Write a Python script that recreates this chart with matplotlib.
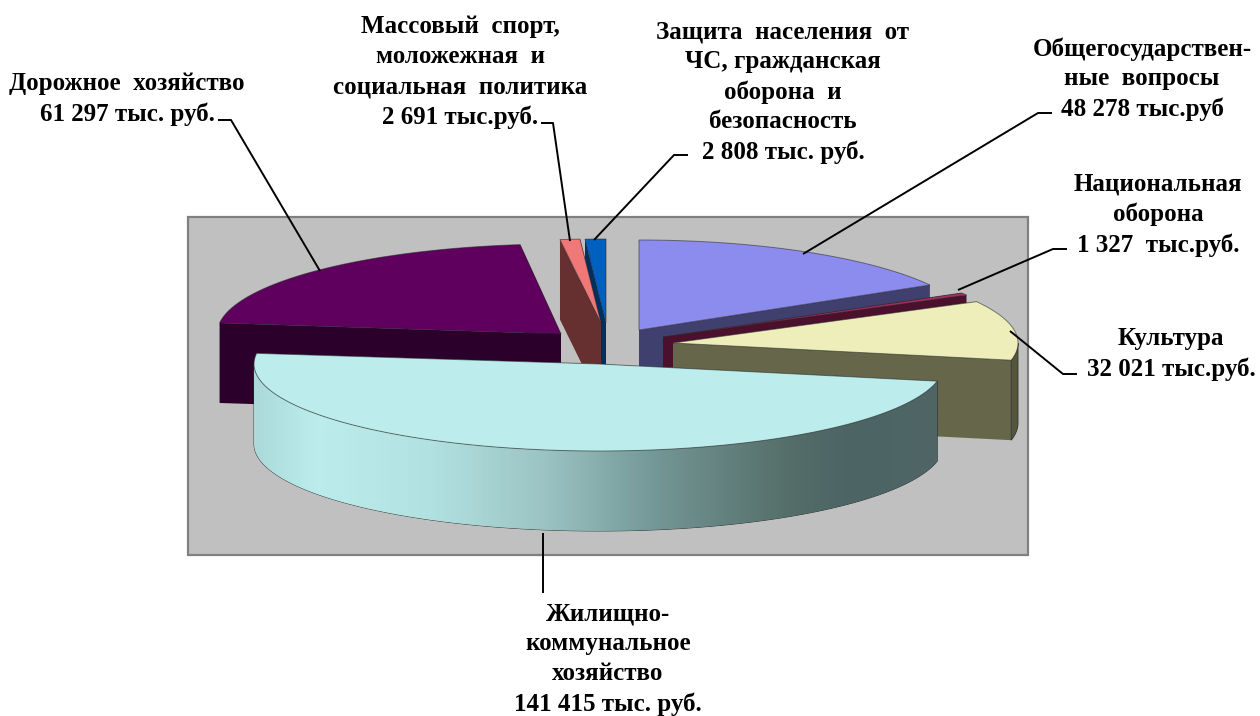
# -*- coding: utf-8 -*-
import numpy as np
import matplotlib
matplotlib.use('Agg')
import matplotlib.pyplot as plt
from matplotlib.colors import LinearSegmentedColormap
from matplotlib.patches import Polygon, Rectangle

plt.rcParams['font.family'] = ['Liberation Serif', 'DejaVu Serif']

# Data (clockwise, starting from 12 o'clock)
slice_names = ['Общегосударственные вопросы', 'Национальная оборона', 'Культура',
               'Жилищно-коммунальное хозяйство', 'Дорожное хозяйство',
               'Массовый спорт', 'Защита населения']
slice_values = [48278, 1327, 32021, 141415, 61297, 2691, 2808]
top_colors = ['#8C8CEE', '#A03060', '#EEEEBB', '#BCECEC', '#5F005F', '#F07878', '#0060C0']
side_colors = ['#40406E', '#4A102E', '#66664A', '#4F6666', '#2B002B', '#663030', '#003060']

slice_labels = [
    'Общегосударствен-\nные  вопросы\n48 278 тыс.руб',
    'Национальная\nоборона\n1 327  тыс.руб.',
    'Культура\n32 021 тыс.руб.',
    'Жилищно-\nкоммунальное\nхозяйство\n141 415 тыс. руб.',
    'Дорожное  хозяйство\n61 297 тыс. руб.',
    'Массовый  спорт,\nмоложежная  и\nсоциальная  политика\n2 691 тыс.руб.',
    'Защита  населения  от\nЧС, гражданская\nоборона  и\nбезопасность\n2 808 тыс. руб.',
]

# Layout in pixels of the 1260x716 picture
centers = [(639, 330), (663, 337), (673, 343), (599, 364), (561, 334), (601, 323), (606, 323)]
radii = [(336, 90), (345, 88), (345, 87), (345, 87), (344, 90), (345, 84), (345, 84)]
label_pos = [(1142, 79), (1158, 215), (1171, 354), (608, 659), (127, 99), (460, 72), (783, 92)]
leaders = [
    [(1052, 113), (1038, 113), (803, 254)],
    [(1067, 249), (1053, 249), (958, 290)],
    [(1077, 374), (1063, 374), (1010, 331)],
    [(543, 593), (543, 533)],
    [(218, 120), (231, 120), (320, 271)],
    [(541, 123), (553, 123), (570, 241)],
    [(688, 155), (674, 155), (594, 240)],
]
depth = 80
draw_order = [6, 0, 1, 2, 4, 5, 3]

# side shading of the big slice, left to right
grad_x = [254, 315, 430, 545, 657, 790, 850, 937]
grad_colors = ['#ACDADA', '#BCECEC', '#B2E1E1', '#9BC3C3', '#739696', '#556E69', '#4C6464', '#506666']


def arc(center, radius, a1, a2, n=120):
    t = np.radians(np.linspace(a1, a2, n))
    return np.column_stack([center[0] + radius[0] * np.cos(t), center[1] - radius[1] * np.sin(t)])


fig = plt.figure(figsize=(12.6, 7.16), dpi=100, facecolor='white')
ax = fig.add_axes([0, 0, 1, 1])
ax.set_xlim(0, 1260)
ax.set_ylim(716, 0)
ax.axis('off')

ax.add_patch(Rectangle((188, 217), 840, 338, facecolor='#C0C0C0', edgecolor='#808080', lw=1.6, zorder=1))

# Angles from the values
sweep = 360.0 * np.array(slice_values) / np.sum(slice_values)
ends = 90 - np.cumsum(sweep)
starts = ends + sweep

z = 2
for i in draw_order:
    c, r = centers[i], radii[i]
    a1, a2 = starts[i], ends[i]
    down = np.array([0, depth])
    rim = arc(c, r, a1, a2)
    apex = np.array(c, dtype=float)

    # the two cut faces
    for p in (rim[0], rim[-1]):
        ax.add_patch(Polygon([apex, p, p + down, apex + down], closed=True,
                             facecolor=side_colors[i], edgecolor='none', zorder=z))

    # outer wall, only the part turned to the viewer (sin < 0)
    t = np.linspace(a1, a2, 240)
    front = t[np.sin(np.radians(t)) < 0]
    if len(front) > 1:
        wall = arc(c, r, front[0], front[-1])
        pts = np.vstack([wall, (wall + down)[::-1]])
        wall_patch = Polygon(pts, closed=True, facecolor=side_colors[i], edgecolor='#303030', lw=0.6, zorder=z)
        if slice_names[i].startswith('Культура'):
            wall_patch.set_facecolor('#55553E')
        ax.add_patch(wall_patch)
        if slice_names[i].startswith('Жилищно'):
            cmap = LinearSegmentedColormap.from_list(
                'side', list(zip((np.array(grad_x) - grad_x[0]) / (grad_x[-1] - grad_x[0]), grad_colors)))
            im = ax.imshow(np.linspace(0, 1, 700).reshape(1, -1), cmap=cmap, aspect='auto',
                           extent=(grad_x[0], grad_x[-1], 716, 0), zorder=z)
            im.set_clip_path(wall_patch)

    # top surface
    ax.add_patch(Polygon(np.vstack([apex, rim]), closed=True, facecolor=top_colors[i],
                         edgecolor=(0.15, 0.15, 0.15, 0.55), lw=0.7, zorder=z))
    z += 1

ax.set_xlim(0, 1260)
ax.set_ylim(716, 0)

for pts in leaders:
    xs, ys = zip(*pts)
    ax.plot(xs, ys, color='black', lw=1.4, zorder=30, solid_capstyle='butt')

for text, (x, y) in zip(slice_labels, label_pos):
    ax.text(x, y, text, ha='center', va='center', ma='center', fontsize=18, fontweight='bold',
            linespacing=1.38, color='black', zorder=31)

fig.savefig('out.png', dpi=100)
